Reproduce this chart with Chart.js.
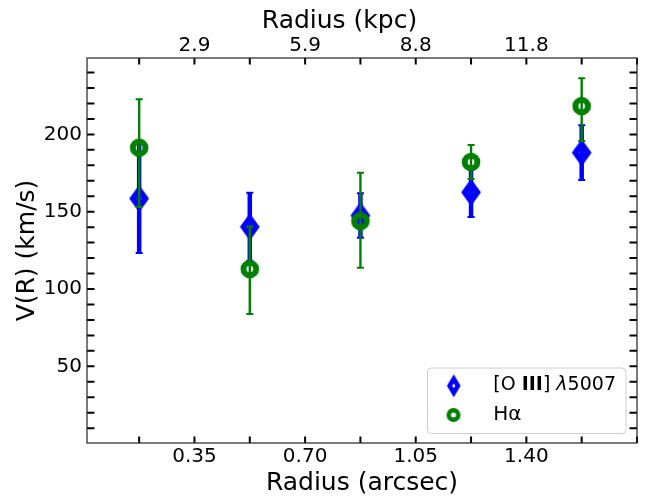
<!DOCTYPE html>
<html>
<head>
<meta charset="utf-8">
<script src="https://cdn.jsdelivr.net/npm/chart.js@4/dist/chart.umd.min.js"></script>
<style>
  html, body { margin: 0; padding: 0; background: #fff; }
  #c { display: block; }
</style>
</head>
<body>
<canvas id="c" width="649" height="498"></canvas>
<script>
// ---- data ----
const radiusArcsec = [0.175, 0.525, 0.875, 1.225, 1.575];
const oiiiV = [158.5, 140.2, 147.5, 162.5, 188.2];
const oiiiErr = [35.2, 22.0, 14.4, 16.0, 17.7];
const haV = [191.4, 112.9, 143.9, 182.1, 218.3];
const haErrUp = [31.3, 27.6, 31.3, 11.0, 18.0];
const haErrDown = [38.4, 29.1, 30.2, 11.0, 22.6];

// ---- ticks ----
const xTickValues = [0.175, 0.35, 0.525, 0.70, 0.875, 1.05, 1.225, 1.40, 1.575, 1.75];
const arcsecLabels = ['', '0.35', '', '0.70', '', '1.05', '', '1.40', '', ''];
const kpcLabels = ['', '2.9', '', '5.9', '', '8.8', '', '11.8', '', ''];
const yTickValues = [10, 20, 30, 40, 50, 60, 70, 80, 90, 100, 110, 120, 130, 140, 150, 160, 170, 180, 190, 200, 210, 220, 230, 240];
const yTickLabels = [50, 100, 150, 200];
const topTitle = 'Radius (kpc)';

const FONT = 'DejaVu Sans';
const BLUE = '#0000ff';
const GREEN = '#008000';
Chart.defaults.font.family = FONT;
Chart.defaults.color = '#000';

function makeDiamond(hw, hh, lw, color) {
  const c = document.createElement('canvas');
  const W = 2 * Math.ceil(hw + lw * 1.8 + 2), H = 2 * Math.ceil(hh + lw * 1.8 + 2);
  c.width = W; c.height = H;
  const g = c.getContext('2d');
  g.translate(W / 2, H / 2);
  g.beginPath();
  g.moveTo(0, -hh); g.lineTo(hw, 0); g.lineTo(0, hh); g.lineTo(-hw, 0); g.closePath();
  g.lineJoin = 'miter'; g.miterLimit = 10;
  g.lineWidth = lw; g.strokeStyle = color; g.stroke();
  return c;
}
function makeRing(r, lw, color) {
  const c = document.createElement('canvas');
  const S = 2 * Math.ceil(r + lw / 2 + 2);
  c.width = S; c.height = S;
  const g = c.getContext('2d');
  g.beginPath(); g.arc(S / 2, S / 2, r, 0, Math.PI * 2);
  g.lineWidth = lw; g.strokeStyle = color; g.stroke();
  return c;
}
const diamondImg = makeDiamond(6.2, 8.6, 6, BLUE);
const ringImg = makeRing(6.3, 6, GREEN);
const diamondLeg = makeDiamond(4.2, 7, 4.6, BLUE);
const ringLeg = makeRing(4.75, 4.5, GREEN);

const errInfo = [
  { up: oiiiErr, down: oiiiErr, vals: oiiiV, color: BLUE, lw: 4.5, capLw: 2, cap: 3.5 },
  { up: haErrUp, down: haErrDown, vals: haV, color: GREEN, lw: 2.4, capLw: 2, cap: 3.5 }
];

const customPlugin = {
  id: 'custom',
  beforeDatasetDraw(chart, args) {
    const info = errInfo[args.index];
    if (!info) return;
    const ctx = chart.ctx, xs = chart.scales.x, ys = chart.scales.y;
    ctx.save();
    ctx.strokeStyle = info.color;
    for (let j = 0; j < radiusArcsec.length; j++) {
      const px = xs.getPixelForValue(radiusArcsec[j]);
      const t = ys.getPixelForValue(info.vals[j] + info.up[j]);
      const b = ys.getPixelForValue(info.vals[j] - info.down[j]);
      ctx.lineWidth = info.lw;
      ctx.beginPath(); ctx.moveTo(px, t); ctx.lineTo(px, b); ctx.stroke();
      ctx.lineWidth = info.capLw;
      ctx.beginPath();
      ctx.moveTo(px - info.cap, t); ctx.lineTo(px + info.cap, t);
      ctx.moveTo(px - info.cap, b); ctx.lineTo(px + info.cap, b);
      ctx.stroke();
    }
    ctx.restore();
  },
  afterDraw(chart) {
    const ctx = chart.ctx, a = chart.chartArea;
    const xs = chart.scales.x, ys = chart.scales.y;
    ctx.save();
    // ticks (inward)
    ctx.strokeStyle = '#000';
    ctx.lineWidth = 2;
    const L = 6.5;
    xTickValues.forEach(v => {
      const px = xs.getPixelForValue(v);
      ctx.beginPath();
      ctx.moveTo(px, a.bottom); ctx.lineTo(px, a.bottom - L);
      ctx.moveTo(px, a.top); ctx.lineTo(px, a.top + L);
      ctx.stroke();
    });
    yTickValues.forEach(v => {
      const py = ys.getPixelForValue(v);
      ctx.beginPath();
      ctx.moveTo(a.left, py); ctx.lineTo(a.left + 7.5, py);
      ctx.moveTo(a.right, py); ctx.lineTo(a.right - 7.5, py);
      ctx.stroke();
    });
    // frame
    ctx.strokeStyle = '#222';
    ctx.lineWidth = 1.2;
    ctx.strokeRect(a.left, a.top, a.right - a.left, a.bottom - a.top);

    // top axis title (offset left as in the reference)
    ctx.fillStyle = '#000';
    ctx.font = `25px "${FONT}"`;
    ctx.textAlign = 'center';
    ctx.textBaseline = 'middle';
    ctx.fillText(topTitle, 339.5, 21);

    // legend
    const lx = 427.5, ly = 368, lw = 198.5, lh = 65.5, r = 4;
    ctx.beginPath();
    ctx.moveTo(lx + r, ly); ctx.lineTo(lx + lw - r, ly); ctx.arcTo(lx + lw, ly, lx + lw, ly + r, r);
    ctx.lineTo(lx + lw, ly + lh - r); ctx.arcTo(lx + lw, ly + lh, lx + lw - r, ly + lh, r);
    ctx.lineTo(lx + r, ly + lh); ctx.arcTo(lx, ly + lh, lx, ly + lh - r, r);
    ctx.lineTo(lx, ly + r); ctx.arcTo(lx, ly, lx + r, ly, r);
    ctx.closePath();
    ctx.fillStyle = 'rgba(255,255,255,0.8)'; ctx.fill();
    ctx.strokeStyle = '#cccccc'; ctx.lineWidth = 1; ctx.stroke();

    ctx.drawImage(diamondLeg, 453.7 - diamondLeg.width / 2, 385.8 - diamondLeg.height / 2);
    ctx.drawImage(ringLeg, 453.5 - ringLeg.width / 2, 415 - ringLeg.height / 2);

    ctx.fillStyle = '#000';
    ctx.textBaseline = 'middle';
    ctx.textAlign = 'left';
    const parts = [
      ['[O ', `19px "${FONT}"`],
      ['III', `bold 19px "${FONT}"`],
      ['] ', `19px "${FONT}"`],
      ['\u03BB', `italic 19px "${FONT}"`],
      ['5007', `19px "${FONT}"`]
    ];
    let tx = 493.3;
    parts.forEach(([s, f]) => { ctx.font = f; ctx.fillText(s, tx, 385.5); tx += ctx.measureText(s).width; });
    ctx.font = `20px "${FONT}"`;
    ctx.fillText('H\u03B1', 493.3, 415);
    ctx.restore();
  }
};

const tickFont = { family: FONT, size: 20 };
const titleFont = { family: FONT, size: 25 };

new Chart(document.getElementById('c'), {
  type: 'scatter',
  data: {
    datasets: [
      {
        label: '[O III] \u03BB5007',
        data: radiusArcsec.map((x, i) => ({ x: x, y: oiiiV[i] })),
        pointStyle: diamondImg,
        pointRadius: 8,
        order: 2
      },
      {
        label: 'H\u03B1',
        data: radiusArcsec.map((x, i) => ({ x: x, y: haV[i] })),
        pointStyle: ringImg,
        pointRadius: 8,
        order: 1
      }
    ]
  },
  options: {
    responsive: false,
    animation: false,
    layout: { padding: { left: 0, right: 12, top: 0, bottom: 0 } },
    plugins: { legend: { display: false }, tooltip: { enabled: false } },
    scales: {
      x: {
        type: 'linear', position: 'bottom', min: 0.01, max: 1.75,
        afterBuildTicks: s => { s.ticks = xTickValues.map(v => ({ value: v })); },
        afterFit: s => { s.height = 55; },
        ticks: { autoSkip: false, maxRotation: 0, minRotation: 0, font: tickFont, color: '#000', padding: 2,
                 callback: (v, i) => arcsecLabels[i] },
        grid: { display: false, drawTicks: false },
        border: { display: false },
        title: { display: true, text: 'Radius (arcsec)', font: titleFont, color: '#000', padding: { top: 0, bottom: 0 } }
      },
      x2: {
        type: 'linear', position: 'top', min: 0.01, max: 1.75,
        afterBuildTicks: s => { s.ticks = xTickValues.map(v => ({ value: v })); },
        afterFit: s => { s.height = 58; },
        ticks: { autoSkip: false, maxRotation: 0, minRotation: 0, font: tickFont, color: '#000', padding: 0,
                 callback: (v, i) => kpcLabels[i] },
        grid: { display: false, drawTicks: false },
        border: { display: false },
        title: { display: false }
      },
      y: {
        type: 'linear', position: 'left', min: 0.4, max: 249.4,
        afterBuildTicks: s => { s.ticks = yTickValues.map(v => ({ value: v })); },
        afterFit: s => { s.width = 87; },
        ticks: { autoSkip: false, font: tickFont, color: '#000', padding: 5,
                 callback: v => (yTickLabels.includes(v) ? String(v) : '') },
        grid: { display: false, drawTicks: false },
        border: { display: false },
        title: { display: true, text: 'V(R) (km/s)', font: titleFont, color: '#000', padding: { top: 12, bottom: 0 } }
      }
    }
  },
  plugins: [customPlugin]
});
</script>
</body>
</html>
